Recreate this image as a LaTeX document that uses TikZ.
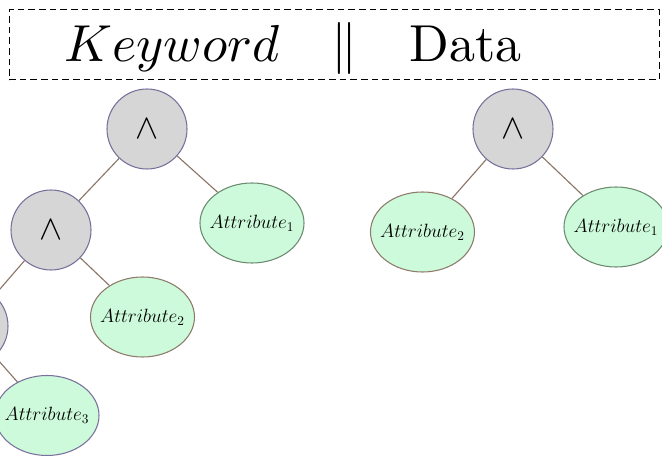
\documentclass[tikz,border=0pt]{standalone}
\usepackage{graphicx}
\usetikzlibrary{shapes.geometric}
\definecolor{opfill}{RGB}{214,214,214}
\definecolor{opline}{RGB}{120,112,154}
\definecolor{leaffill}{RGB}{204,250,218}
\definecolor{leafgreen}{RGB}{108,138,112}
\definecolor{leafbrown}{RGB}{142,123,108}
\definecolor{leafpurple}{RGB}{122,114,156}
\definecolor{edgecol}{RGB}{140,118,104}
\newcommand{\leaflabel}[1]{\makebox[0pt]{$#1$}}
\newcommand{\andsym}{\scalebox{2.6}{$\wedge$}}
\tikzset{
  opnode/.style={circle, draw=opline, fill=opfill, line width=0.8pt,
    minimum size=60pt, inner sep=0pt},
  leafnode/.style={ellipse, fill=leaffill, line width=0.8pt,
    minimum width=78pt, minimum height=60pt, inner sep=0pt,
    font=\fontsize{14.4}{17}\selectfont},
  link/.style={draw=edgecol, line width=0.85pt},
  headbox/.style={draw=black, line width=0.75pt, dash pattern=on 5pt off 3pt}
}
\begin{document}
\begin{tikzpicture}[x=0.75pt, y=-0.75pt]
  \useasboundingbox (0,0) rectangle (662,456);
  \clip (0,0) rectangle (662,456);

  % header strip
  \node[headbox, minimum width=487.5pt, minimum height=52.5pt, inner sep=0pt]
    (header) at (334,45) {};
  \node[anchor=base west, inner sep=0pt]
    (title) at (64,62) {\scalebox{3.9}{$Keyword\quad\|\quad$Data}};

  % left tree
  \node[opnode] (a1) at (147,129) {\andsym};
  \node[opnode] (a2) at (51,230) {\andsym};
  \node[opnode] (a3) at (-32,326) {\andsym};
  \node[leafnode, draw=leafgreen] (l1) at (252,223) {\leaflabel{Attribute_1}};
  \node[leafnode, draw=leafbrown] (l2) at (142.5,317) {\leaflabel{Attribute_2}};
  \node[leafnode, draw=leafpurple] (l3) at (47,415.5) {\leaflabel{Attribute_3}};

  % right tree
  \node[opnode] (b1) at (513,129) {\andsym};
  \node[leafnode, draw=leafbrown] (r2) at (422.5,232) {\leaflabel{Attribute_2}};
  \node[leafnode, draw=leafgreen] (r1) at (616,227) {\leaflabel{Attribute_1}};

  % connectors
  \draw[link] (a1) -- (a2);
  \draw[link] (a1) -- (l1);
  \draw[link] (a2) -- (a3);
  \draw[link] (a2) -- (l2);
  \draw[link] (a3) -- (l3);
  \draw[link] (b1) -- (r2);
  \draw[link] (b1) -- (r1);
\end{tikzpicture}
\end{document}
